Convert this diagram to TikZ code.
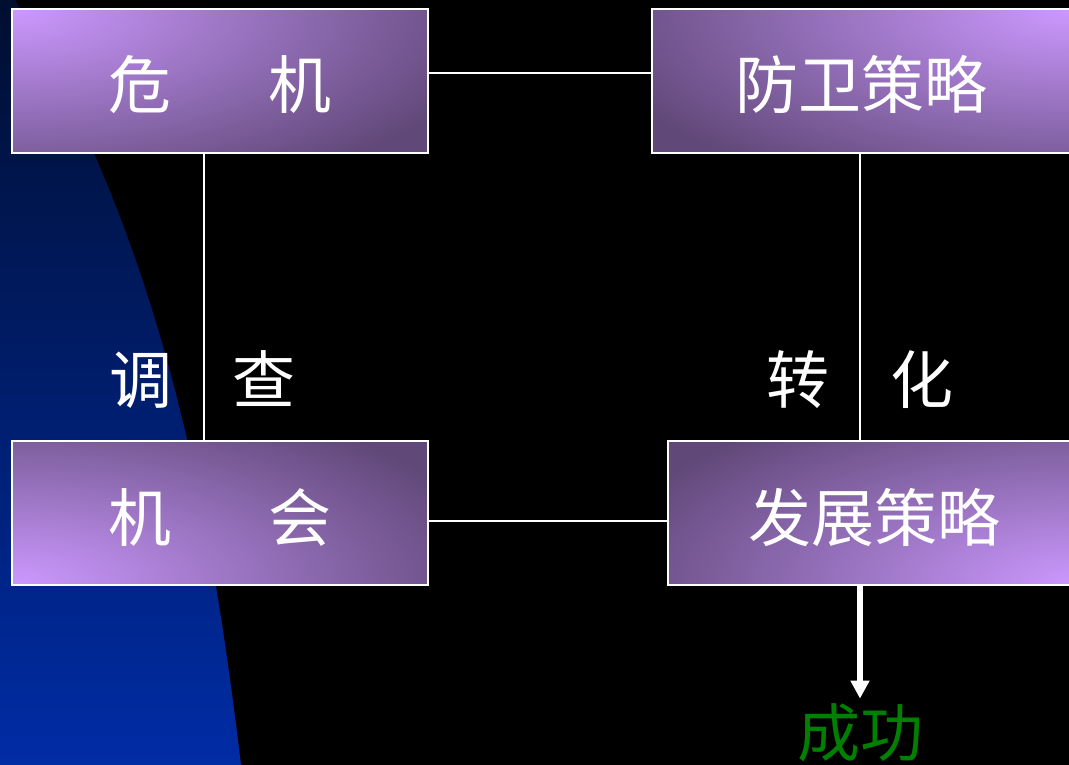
\documentclass[tikz,border=0pt]{standalone}
\usepackage{fontspec}
\newfontfamily\cjk{Noto Sans CJK SC}
\usetikzlibrary{arrows.meta}
\definecolor{boxlight}{RGB}{204,153,255}
\definecolor{boxdark}{RGB}{96,72,120}
\definecolor{navytop}{RGB}{0,14,48}
\definecolor{bluebot}{RGB}{0,44,165}
\definecolor{wingreen}{RGB}{0,128,0}
\pgfdeclareradialshading{boxglow}{\pgfpoint{0bp}{0bp}}{color(0bp)=(boxlight); color(25bp)=(boxdark); color(50bp)=(boxdark)}
\pgfdeclareverticalshading{bluefade}{100bp}{color(0bp)=(bluebot); color(25bp)=(bluebot); color(75bp)=(navytop); color(100bp)=(navytop)}
\begin{document}
\begin{tikzpicture}[x=1pt,y=-1pt,
  box/.style={draw=white, line width=2pt, fill=boxdark, minimum height=144pt,
    inner sep=0pt, text=white, text height=56pt, text depth=0pt,
    font=\cjk\fontsize{63}{63}\selectfont},
  glow/.style={path picture={\shade[shading=boxglow] (path picture bounding box.#1) ellipse [x radius=500pt, y radius=200pt];}},
  conn/.style={draw=white, line width=2pt},
  lbl/.style={text=white, inner sep=0pt, font=\cjk\fontsize{63}{63}\selectfont},
  arr/.style={draw=white, line width=6pt, -{Triangle[width=18pt,length=18pt]}}
]
\useasboundingbox (0,0) rectangle (1069,765);
\fill[black] (0,0) rectangle (1069,765);
\shade[shading=bluefade] (0,0) -- (15,0) .. controls (165,250) and (211,515) .. (241,765) -- (0,765) -- cycle;

\node[box, glow=north west, minimum width=416pt] (b1) at (220,81) {危\hspace{97pt}机};
\node[box, glow=north east, minimum width=419pt] (b2) at (861.5,81) {防卫策略};
\node[box, glow=south west, minimum width=416pt] (b3) at (220,513) {机\hspace{97pt}会};
\node[box, glow=south east, minimum width=412pt] (b4) at (874,513) {发展策略};

\node[lbl, text=wingreen] (win) at (860,733) {成功};

\draw[conn] ([yshift=8pt]b1.east) -- ([yshift=8pt]b2.west);
\draw[conn] ([yshift=-8pt]b3.east) -- ([yshift=-8pt]b4.west);
\draw[conn] ([xshift=-16pt]b1.south) -- node[lbl, pos=0.79, xshift=-1.5pt] (l1) {调\hspace{60pt}查} ([xshift=-16pt]b3.north);
\draw[conn] ([xshift=-1.5pt]b2.south) -- node[lbl, pos=0.79] (l2) {转\hspace{61pt}化} ([xshift=-14pt]b4.north);
\draw[arr, shorten >=5pt] ([xshift=-14pt,yshift=2pt]b4.south) -- (win.north);
\end{tikzpicture}
\end{document}
